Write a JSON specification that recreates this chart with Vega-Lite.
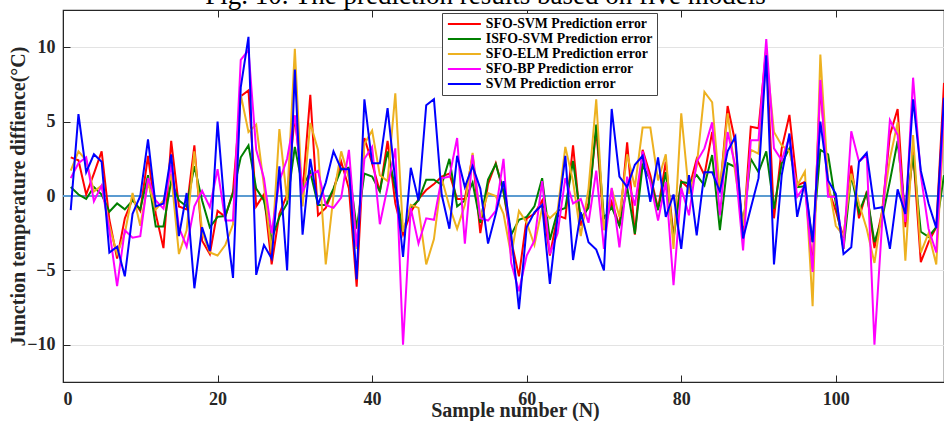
{
  "$schema": "https://vega.github.io/schema/vega-lite/v6.json",
  "width": 881,
  "height": 372,
  "autosize": {"type": "none"},
  "padding": {"left": 63, "top": 10, "right": 0, "bottom": 39},
  "background": "white",
  "title": {"text": "Fig. 10.  The prediction results based on five models", "font": "Liberation Serif", "fontSize": 27, "fontWeight": "normal", "color": "#000", "anchor": "middle", "offset": 0, "dx": -18},
  "config": {
    "view": {"stroke": "#262626", "strokeWidth": 1.2},
    "axis": {"labelFont": "Liberation Serif", "labelFontWeight": "bold", "labelFontSize": 18, "labelColor": "#262626", "titleFont": "Liberation Serif", "titleFontWeight": "bold", "titleFontSize": 20, "titleColor": "#262626", "gridColor": "#e3e3e3", "gridWidth": 1, "domainColor": "#262626", "tickColor": "#262626", "tickSize": -7}
  },
  "datasets": {
    "d": [
      {"n":1,"SFO-SVM":2.6,"ISFO-SVM":0.6,"SFO-ELM":1.7,"SFO-BP":1.2,"SVM":-0.95},
      {"n":2,"SFO-SVM":2.4,"ISFO-SVM":0.1,"SFO-ELM":3.0,"SFO-BP":2.2,"SVM":5.5},
      {"n":3,"SFO-SVM":0.1,"ISFO-SVM":-0.2,"SFO-ELM":2.4,"SFO-BP":2.6,"SVM":1.6},
      {"n":4,"SFO-SVM":1.5,"ISFO-SVM":0.6,"SFO-ELM":0.3,"SFO-BP":-0.35,"SVM":2.8},
      {"n":5,"SFO-SVM":3.0,"ISFO-SVM":0.1,"SFO-ELM":0.7,"SFO-BP":0.7,"SVM":2.3},
      {"n":6,"SFO-SVM":-1.6,"ISFO-SVM":-1.05,"SFO-ELM":-2.0,"SFO-BP":-2.3,"SVM":-3.8},
      {"n":7,"SFO-SVM":-4.2,"ISFO-SVM":-0.5,"SFO-ELM":-3.9,"SFO-BP":-6.05,"SVM":-3.4},
      {"n":8,"SFO-SVM":-1.5,"ISFO-SVM":-0.9,"SFO-ELM":-2.5,"SFO-BP":-2.3,"SVM":-5.4},
      {"n":9,"SFO-SVM":-0.2,"ISFO-SVM":-0.3,"SFO-ELM":0.2,"SFO-BP":-2.8,"SVM":-1.2},
      {"n":10,"SFO-SVM":-1.0,"ISFO-SVM":-0.9,"SFO-ELM":-2.0,"SFO-BP":-2.7,"SVM":0.0},
      {"n":11,"SFO-SVM":2.7,"ISFO-SVM":1.4,"SFO-ELM":0.9,"SFO-BP":1.2,"SVM":3.8},
      {"n":12,"SFO-SVM":-1.2,"ISFO-SVM":-2.05,"SFO-ELM":-0.9,"SFO-BP":-0.3,"SVM":-0.7},
      {"n":13,"SFO-SVM":-3.5,"ISFO-SVM":-2.05,"SFO-ELM":-0.3,"SFO-BP":-0.85,"SVM":-0.5},
      {"n":14,"SFO-SVM":3.7,"ISFO-SVM":1.0,"SFO-ELM":1.5,"SFO-BP":2.1,"SVM":2.8},
      {"n":15,"SFO-SVM":-0.7,"ISFO-SVM":-0.3,"SFO-ELM":-3.9,"SFO-BP":-2.1,"SVM":-2.7},
      {"n":16,"SFO-SVM":-0.9,"ISFO-SVM":-0.7,"SFO-ELM":-2.3,"SFO-BP":-3.4,"SVM":0.2},
      {"n":17,"SFO-SVM":3.4,"ISFO-SVM":2.0,"SFO-ELM":3.0,"SFO-BP":-0.7,"SVM":-6.2},
      {"n":18,"SFO-SVM":-3.0,"ISFO-SVM":-0.3,"SFO-ELM":-2.4,"SFO-BP":0.35,"SVM":-2.1},
      {"n":19,"SFO-SVM":-3.9,"ISFO-SVM":-2.1,"SFO-ELM":-3.8,"SFO-BP":-0.75,"SVM":-3.7},
      {"n":20,"SFO-SVM":-1.0,"ISFO-SVM":-1.4,"SFO-ELM":-4.0,"SFO-BP":1.8,"SVM":5.0},
      {"n":21,"SFO-SVM":-1.4,"ISFO-SVM":-1.35,"SFO-ELM":-3.3,"SFO-BP":-1.65,"SVM":-1.3},
      {"n":22,"SFO-SVM":0.3,"ISFO-SVM":0.2,"SFO-ELM":-1.9,"SFO-BP":-1.65,"SVM":-5.5},
      {"n":23,"SFO-SVM":6.7,"ISFO-SVM":2.6,"SFO-ELM":6.8,"SFO-BP":9.15,"SVM":7.3},
      {"n":24,"SFO-SVM":7.1,"ISFO-SVM":3.4,"SFO-ELM":4.3,"SFO-BP":9.8,"SVM":10.7},
      {"n":25,"SFO-SVM":-0.7,"ISFO-SVM":0.5,"SFO-ELM":4.8,"SFO-BP":3.1,"SVM":-5.3},
      {"n":26,"SFO-SVM":0.1,"ISFO-SVM":-0.3,"SFO-ELM":0.7,"SFO-BP":1.2,"SVM":-3.3},
      {"n":27,"SFO-SVM":-4.6,"ISFO-SVM":-2.9,"SFO-ELM":-3.8,"SFO-BP":-2.5,"SVM":-4.2},
      {"n":28,"SFO-SVM":-1.2,"ISFO-SVM":-1.4,"SFO-ELM":4.5,"SFO-BP":1.0,"SVM":2.0},
      {"n":29,"SFO-SVM":0.1,"ISFO-SVM":-0.5,"SFO-ELM":-0.3,"SFO-BP":2.5,"SVM":-5.0},
      {"n":30,"SFO-SVM":5.4,"ISFO-SVM":3.3,"SFO-ELM":9.9,"SFO-BP":5.4,"SVM":8.5},
      {"n":31,"SFO-SVM":0.3,"ISFO-SVM":0.6,"SFO-ELM":-0.7,"SFO-BP":0.3,"SVM":-2.6},
      {"n":32,"SFO-SVM":6.8,"ISFO-SVM":1.6,"SFO-ELM":4.9,"SFO-BP":1.4,"SVM":2.5},
      {"n":33,"SFO-SVM":-1.3,"ISFO-SVM":-0.6,"SFO-ELM":3.1,"SFO-BP":1.7,"SVM":-0.6},
      {"n":34,"SFO-SVM":-0.8,"ISFO-SVM":-0.6,"SFO-ELM":-4.6,"SFO-BP":-0.6,"SVM":0.9},
      {"n":35,"SFO-SVM":0.4,"ISFO-SVM":0.5,"SFO-ELM":0.0,"SFO-BP":-0.8,"SVM":3.0},
      {"n":36,"SFO-SVM":2.3,"ISFO-SVM":1.8,"SFO-ELM":3.0,"SFO-BP":-0.1,"SVM":1.8},
      {"n":37,"SFO-SVM":0.5,"ISFO-SVM":1.9,"SFO-ELM":1.2,"SFO-BP":3.1,"SVM":1.8},
      {"n":38,"SFO-SVM":-6.1,"ISFO-SVM":-2.2,"SFO-ELM":-3.55,"SFO-BP":-3.4,"SVM":-5.6},
      {"n":39,"SFO-SVM":3.9,"ISFO-SVM":1.5,"SFO-ELM":3.5,"SFO-BP":2.5,"SVM":6.5},
      {"n":40,"SFO-SVM":2.2,"ISFO-SVM":1.3,"SFO-ELM":4.4,"SFO-BP":3.3,"SVM":2.2},
      {"n":41,"SFO-SVM":0.3,"ISFO-SVM":0.3,"SFO-ELM":1.4,"SFO-BP":-1.9,"SVM":2.2},
      {"n":42,"SFO-SVM":3.7,"ISFO-SVM":3.0,"SFO-ELM":1.0,"SFO-BP":0.6,"SVM":5.9},
      {"n":43,"SFO-SVM":-0.5,"ISFO-SVM":0.5,"SFO-ELM":6.9,"SFO-BP":3.2,"SVM":1.0},
      {"n":44,"SFO-SVM":-2.6,"ISFO-SVM":-2.4,"SFO-ELM":-2.4,"SFO-BP":-10.0,"SVM":-4.1},
      {"n":45,"SFO-SVM":-1.1,"ISFO-SVM":-0.8,"SFO-ELM":-0.6,"SFO-BP":-0.8,"SVM":1.9},
      {"n":46,"SFO-SVM":-0.2,"ISFO-SVM":-0.3,"SFO-ELM":-0.8,"SFO-BP":-3.2,"SVM":-0.3},
      {"n":47,"SFO-SVM":0.4,"ISFO-SVM":1.1,"SFO-ELM":-4.6,"SFO-BP":-1.5,"SVM":6.1},
      {"n":48,"SFO-SVM":0.8,"ISFO-SVM":1.1,"SFO-ELM":-2.9,"SFO-BP":-1.6,"SVM":6.5},
      {"n":49,"SFO-SVM":1.3,"ISFO-SVM":0.75,"SFO-ELM":1.2,"SFO-BP":1.2,"SVM":0.1},
      {"n":50,"SFO-SVM":1.5,"ISFO-SVM":2.5,"SFO-ELM":-0.7,"SFO-BP":1.3,"SVM":-2.2},
      {"n":51,"SFO-SVM":-0.2,"ISFO-SVM":-0.7,"SFO-ELM":-2.2,"SFO-BP":3.9,"SVM":2.7},
      {"n":52,"SFO-SVM":-0.2,"ISFO-SVM":-0.3,"SFO-ELM":-0.6,"SFO-BP":-3.2,"SVM":0.6},
      {"n":53,"SFO-SVM":2.7,"ISFO-SVM":0.9,"SFO-ELM":2.9,"SFO-BP":2.75,"SVM":2.0},
      {"n":54,"SFO-SVM":-2.5,"ISFO-SVM":-1.8,"SFO-ELM":-1.5,"SFO-BP":-1.5,"SVM":0.5},
      {"n":55,"SFO-SVM":0.8,"ISFO-SVM":1.1,"SFO-ELM":0.2,"SFO-BP":-1.65,"SVM":-3.2},
      {"n":56,"SFO-SVM":2.2,"ISFO-SVM":2.15,"SFO-ELM":0.0,"SFO-BP":-1.0,"SVM":-1.2},
      {"n":57,"SFO-SVM":0.3,"ISFO-SVM":0.3,"SFO-ELM":-1.2,"SFO-BP":2.5,"SVM":1.0},
      {"n":58,"SFO-SVM":-3.0,"ISFO-SVM":-2.6,"SFO-ELM":-4.0,"SFO-BP":-4.5,"SVM":-2.6},
      {"n":59,"SFO-SVM":-5.4,"ISFO-SVM":-1.6,"SFO-ELM":-1.0,"SFO-BP":-6.4,"SVM":-7.6},
      {"n":60,"SFO-SVM":-1.5,"ISFO-SVM":-1.4,"SFO-ELM":-1.8,"SFO-BP":-4.0,"SVM":-2.1},
      {"n":61,"SFO-SVM":-1.2,"ISFO-SVM":-0.7,"SFO-ELM":-3.3,"SFO-BP":-3.0,"SVM":-1.1},
      {"n":62,"SFO-SVM":-0.3,"ISFO-SVM":1.2,"SFO-ELM":-0.8,"SFO-BP":1.0,"SVM":-0.6},
      {"n":63,"SFO-SVM":-4.0,"ISFO-SVM":-2.95,"SFO-ELM":-1.5,"SFO-BP":-3.9,"SVM":-5.9},
      {"n":64,"SFO-SVM":-1.3,"ISFO-SVM":-1.0,"SFO-ELM":-1.0,"SFO-BP":-2.5,"SVM":-1.4},
      {"n":65,"SFO-SVM":-1.5,"ISFO-SVM":-0.8,"SFO-ELM":3.3,"SFO-BP":1.2,"SVM":2.7},
      {"n":66,"SFO-SVM":3.4,"ISFO-SVM":2.35,"SFO-ELM":1.0,"SFO-BP":-0.5,"SVM":-4.3},
      {"n":67,"SFO-SVM":-2.0,"ISFO-SVM":-1.5,"SFO-ELM":-2.7,"SFO-BP":-0.2,"SVM":-1.1},
      {"n":68,"SFO-SVM":-0.5,"ISFO-SVM":-0.8,"SFO-ELM":0.5,"SFO-BP":-1.8,"SVM":-3.1},
      {"n":69,"SFO-SVM":4.5,"ISFO-SVM":4.8,"SFO-ELM":6.5,"SFO-BP":1.7,"SVM":-3.6},
      {"n":70,"SFO-SVM":-2.2,"ISFO-SVM":-1.5,"SFO-ELM":-2.3,"SFO-BP":-3.55,"SVM":-5.0},
      {"n":71,"SFO-SVM":-0.4,"ISFO-SVM":-0.75,"SFO-ELM":0.5,"SFO-BP":0.55,"SVM":5.85},
      {"n":72,"SFO-SVM":-2.0,"ISFO-SVM":-2.0,"SFO-ELM":-1.4,"SFO-BP":-3.45,"SVM":1.3},
      {"n":73,"SFO-SVM":3.6,"ISFO-SVM":0.6,"SFO-ELM":2.8,"SFO-BP":1.3,"SVM":0.6},
      {"n":74,"SFO-SVM":-2.6,"ISFO-SVM":-2.55,"SFO-ELM":0.6,"SFO-BP":-0.65,"SVM":2.1},
      {"n":75,"SFO-SVM":3.1,"ISFO-SVM":2.05,"SFO-ELM":4.6,"SFO-BP":3.0,"SVM":2.7},
      {"n":76,"SFO-SVM":1.4,"ISFO-SVM":1.1,"SFO-ELM":4.6,"SFO-BP":0.95,"SVM":-0.4},
      {"n":77,"SFO-SVM":-0.85,"ISFO-SVM":-0.95,"SFO-ELM":1.05,"SFO-BP":-1.65,"SVM":2.6},
      {"n":78,"SFO-SVM":2.3,"ISFO-SVM":1.6,"SFO-ELM":2.8,"SFO-BP":0.95,"SVM":-1.4},
      {"n":79,"SFO-SVM":-2.65,"ISFO-SVM":-2.9,"SFO-ELM":-3.55,"SFO-BP":-6.0,"SVM":0.1},
      {"n":80,"SFO-SVM":1.0,"ISFO-SVM":0.95,"SFO-ELM":5.55,"SFO-BP":0.55,"SVM":-3.55},
      {"n":81,"SFO-SVM":0.5,"ISFO-SVM":0.85,"SFO-ELM":0.15,"SFO-BP":-1.3,"SVM":1.4},
      {"n":82,"SFO-SVM":2.5,"ISFO-SVM":1.4,"SFO-ELM":2.0,"SFO-BP":2.3,"SVM":-2.65},
      {"n":83,"SFO-SVM":1.4,"ISFO-SVM":0.7,"SFO-ELM":7.0,"SFO-BP":3.2,"SVM":1.6},
      {"n":84,"SFO-SVM":4.3,"ISFO-SVM":2.75,"SFO-ELM":6.3,"SFO-BP":4.95,"SVM":1.6},
      {"n":85,"SFO-SVM":0.3,"ISFO-SVM":-2.3,"SFO-ELM":0.3,"SFO-BP":-1.3,"SVM":0.3},
      {"n":86,"SFO-SVM":6.05,"ISFO-SVM":2.2,"SFO-ELM":5.55,"SFO-BP":4.3,"SVM":3.0},
      {"n":87,"SFO-SVM":3.6,"ISFO-SVM":1.95,"SFO-ELM":1.5,"SFO-BP":2.0,"SVM":4.0},
      {"n":88,"SFO-SVM":-2.65,"ISFO-SVM":-2.0,"SFO-ELM":-2.0,"SFO-BP":-3.65,"SVM":-2.85},
      {"n":89,"SFO-SVM":4.65,"ISFO-SVM":2.5,"SFO-ELM":3.1,"SFO-BP":3.75,"SVM":-0.8},
      {"n":90,"SFO-SVM":4.55,"ISFO-SVM":1.6,"SFO-ELM":2.85,"SFO-BP":3.75,"SVM":1.2},
      {"n":91,"SFO-SVM":9.9,"ISFO-SVM":3.0,"SFO-ELM":9.5,"SFO-BP":10.55,"SVM":9.45},
      {"n":92,"SFO-SVM":-1.5,"ISFO-SVM":-0.85,"SFO-ELM":4.3,"SFO-BP":3.2,"SVM":-4.6},
      {"n":93,"SFO-SVM":3.2,"ISFO-SVM":2.2,"SFO-ELM":3.4,"SFO-BP":2.4,"SVM":1.4},
      {"n":94,"SFO-SVM":5.45,"ISFO-SVM":3.2,"SFO-ELM":3.0,"SFO-BP":4.0,"SVM":4.2},
      {"n":95,"SFO-SVM":0.7,"ISFO-SVM":0.6,"SFO-ELM":0.7,"SFO-BP":-0.05,"SVM":-1.4},
      {"n":96,"SFO-SVM":0.95,"ISFO-SVM":0.65,"SFO-ELM":1.65,"SFO-BP":0.7,"SVM":0.95},
      {"n":97,"SFO-SVM":-4.9,"ISFO-SVM":-3.1,"SFO-ELM":-7.4,"SFO-BP":-5.1,"SVM":-3.1},
      {"n":98,"SFO-SVM":7.5,"ISFO-SVM":3.1,"SFO-ELM":9.5,"SFO-BP":7.8,"SVM":5.0},
      {"n":99,"SFO-SVM":0.5,"ISFO-SVM":2.8,"SFO-ELM":1.0,"SFO-BP":-0.05,"SVM":1.05},
      {"n":100,"SFO-SVM":-1.0,"ISFO-SVM":-0.5,"SFO-ELM":-2.0,"SFO-BP":-0.05,"SVM":0.15},
      {"n":101,"SFO-SVM":-2.8,"ISFO-SVM":-3.55,"SFO-ELM":-2.65,"SFO-BP":-3.55,"SVM":-3.9},
      {"n":102,"SFO-SVM":2.05,"ISFO-SVM":1.4,"SFO-ELM":1.5,"SFO-BP":4.35,"SVM":-3.45},
      {"n":103,"SFO-SVM":-1.5,"ISFO-SVM":-1.1,"SFO-ELM":-0.5,"SFO-BP":2.3,"SVM":2.3},
      {"n":104,"SFO-SVM":0.3,"ISFO-SVM":0.2,"SFO-ELM":-2.2,"SFO-BP":2.75,"SVM":2.9},
      {"n":105,"SFO-SVM":-3.5,"ISFO-SVM":-3.1,"SFO-ELM":-4.5,"SFO-BP":-10.0,"SVM":-0.85},
      {"n":106,"SFO-SVM":-1.0,"ISFO-SVM":-1.5,"SFO-ELM":-1.0,"SFO-BP":-1.75,"SVM":-0.75},
      {"n":107,"SFO-SVM":4.1,"ISFO-SVM":1.0,"SFO-ELM":2.5,"SFO-BP":5.1,"SVM":-3.55},
      {"n":108,"SFO-SVM":5.85,"ISFO-SVM":3.7,"SFO-ELM":4.95,"SFO-BP":4.1,"SVM":0.45},
      {"n":109,"SFO-SVM":-2.1,"ISFO-SVM":-1.3,"SFO-ELM":-4.35,"SFO-BP":-1.75,"SVM":-1.2},
      {"n":110,"SFO-SVM":3.0,"ISFO-SVM":2.75,"SFO-ELM":4.1,"SFO-BP":7.95,"SVM":6.5},
      {"n":111,"SFO-SVM":-4.45,"ISFO-SVM":-2.4,"SFO-ELM":-3.8,"SFO-BP":1.4,"SVM":1.7},
      {"n":112,"SFO-SVM":-3.1,"ISFO-SVM":-2.75,"SFO-ELM":-2.5,"SFO-BP":-2.2,"SVM":-0.5},
      {"n":113,"SFO-SVM":-2.1,"ISFO-SVM":-2.1,"SFO-ELM":-4.6,"SFO-BP":-3.8,"SVM":-2.15},
      {"n":114,"SFO-SVM":7.6,"ISFO-SVM":1.4,"SFO-ELM":5.0,"SFO-BP":6.0,"SVM":6.6}
    ],
    "zero": [{"z": 0}]
  },
  "layer": [
    {
      "data": {"name": "d"},
      "mark": {"type": "point", "opacity": 0},
      "encoding": {
        "x": {"field": "n", "type": "quantitative", "scale": {"domain": [0, 114], "nice": false}, "axis": {"orient": "top", "labels": false, "title": null, "values": [0, 20, 40, 60, 80, 100], "grid": false, "tickSize": -7}}
      }
    },
    {
      "data": {"name": "zero"},
      "mark": {"type": "rule", "color": "#5b9bd1", "strokeWidth": 2},
      "encoding": {"y": {"field": "z", "type": "quantitative"}}
    },
    {
      "data": {"name": "d"},
      "transform": [{"fold": ["SFO-SVM", "ISFO-SVM", "SFO-ELM", "SFO-BP", "SVM"], "as": ["series", "v"]}],
      "mark": {"type": "line", "strokeWidth": 2},
      "encoding": {
        "x": {"field": "n", "type": "quantitative", "scale": {"domain": [0, 114], "nice": false}, "axis": {"orient": "bottom", "title": "Sample number (N)", "values": [0, 20, 40, 60, 80, 100], "labelPadding": 15, "titlePadding": -8, "titleX": 452}},
        "y": {"field": "v", "type": "quantitative", "scale": {"domain": [-12.5, 12.5], "nice": false}, "axis": {"title": "Junction temperature diffience(°C)", "values": [-10, -5, 0, 5, 10], "labelPadding": 15, "titlePadding": -2}},
        "color": {
          "field": "series", "type": "nominal",
          "scale": {"domain": ["SFO-SVM", "ISFO-SVM", "SFO-ELM", "SFO-BP", "SVM"], "range": ["#ff0000", "#008000", "#edb120", "#ff00ff", "#0000ff"]},
          "legend": {"orient": "none", "legendX": 379, "legendY": 3, "title": null, "symbolType": "M-1,0H5.6", "symbolSize": 100, "symbolStrokeWidth": 2, "labelFont": "Liberation Serif", "labelFontWeight": "bold", "labelFontSize": 13.8, "labelColor": "#000", "labelLimit": 300, "labelExpr": "datum.label + ' Prediction error'", "fillColor": "white", "strokeColor": "#444", "padding": 4, "rowPadding": 0, "labelOffset": 26}
        }
      }
    }
  ],
  "resolve": {"axis": {"x": "independent"}}
}
